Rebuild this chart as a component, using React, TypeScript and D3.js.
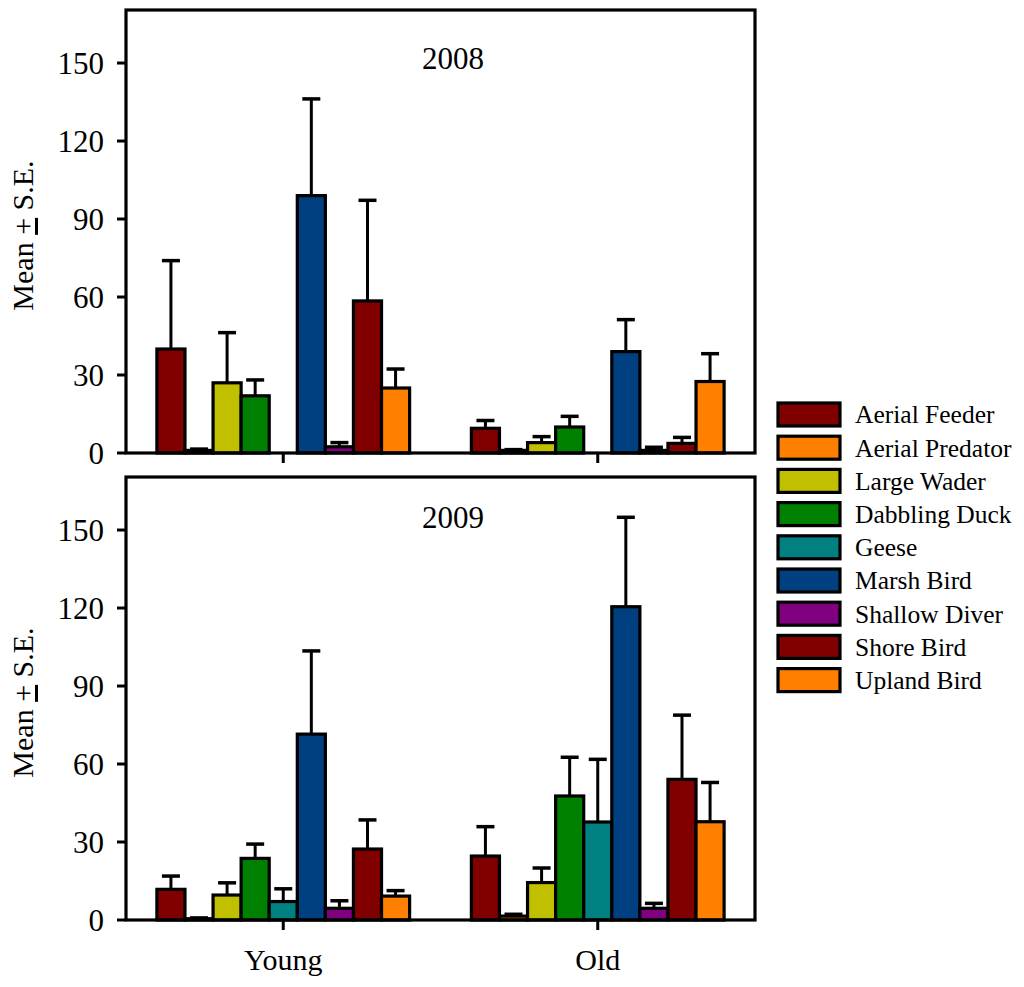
import * as d3 from 'd3';

const categories = [
  'Aerial Feeder',
  'Aerial Predator',
  'Large Wader',
  'Dabbling Duck',
  'Geese',
  'Marsh Bird',
  'Shallow Diver',
  'Shore Bird',
  'Upland Bird',
];
const colors = ['#800000', '#ff8000', '#c0c000', '#008000', '#008080', '#004080', '#800080', '#800000', '#ff8000'];
const ageGroups = ['Young', 'Old'];
const yTicks = [0, 30, 60, 90, 120, 150];

// 2008
const mean2008Young = [40, 1, 27, 22, 0, 99, 2.4, 58.5, 25];
const se2008Young = [34, 0.5, 19.3, 6.1, 0, 37.2, 1.6, 38.7, 7.3];
const mean2008Old = [9.5, 1, 4, 10, 0, 39, 1, 3.7, 27.5];
const se2008Old = [3, 0.3, 2.3, 4.1, 0, 12.3, 1.2, 2.3, 10.7];

// 2009
const mean2009Young = [11.8, 0.5, 9.6, 23.7, 7.1, 71.5, 4.5, 27.3, 9.2];
const se2009Young = [5.1, 0.3, 4.7, 5.5, 4.9, 32, 2.9, 11.2, 2.1];
const mean2009Old = [24.6, 1.5, 14.4, 47.7, 37.7, 120.5, 4.5, 54.1, 37.8];
const se2009Old = [11.3, 0.7, 5.6, 14.9, 24.1, 34.4, 1.9, 24.7, 15.1];

const FONT = "'Liberation Serif', 'Times New Roman', serif";

const left = 126;
const right = 755;
const panelH = 443;

const x0 = d3.scaleBand<string>().domain(ageGroups).range([left, right]).padding(0);
const x1 = d3.scaleBand<string>().domain(categories).range([0, x0.bandwidth()]).paddingInner(0).paddingOuter(1.1);
const y = d3.scaleLinear().domain([0, 170.4]).range([panelH, 0]);

const Panel = ({ top, year, yearY, means, ses }: {
  top: number; year: string; yearY: number; means: number[][]; ses: number[][];
}) => (
  <g transform={`translate(0,${top})`}>
    {ageGroups.map((g, gi) => (
      <g key={g} transform={`translate(${x0(g)},0)`}>
        {categories.map((c, ci) => {
          const m = means[gi][ci];
          const s = ses[gi][ci];
          const bx = x1(c)!;
          const cx = bx + x1.bandwidth() / 2;
          return (
            <g key={c}>
              {s > 0 && (
                <g stroke="#000" strokeWidth={3}>
                  <line x1={cx} x2={cx} y1={y(m)} y2={y(m + s)} />
                  <line x1={cx - 9} x2={cx + 9} y1={y(m + s)} y2={y(m + s)} strokeWidth={3.5} />
                </g>
              )}
              <rect x={bx} y={y(m)} width={x1.bandwidth()} height={y(0) - y(m)}
                fill={colors[ci]} stroke="#000" strokeWidth={3.2} />
            </g>
          );
        })}
      </g>
    ))}
    {/* frame */}
    <rect x={left} y={0} width={right - left} height={panelH} fill="none" stroke="#000" strokeWidth={3.2} />
    {yTicks.map(t => (
      <g key={t}>
        <line x1={left - 9} x2={left} y1={y(t)} y2={y(t)} stroke="#000" strokeWidth={3} />
        <text x={104} y={y(t)} dy="0.35em" textAnchor="end" fontSize={31} fontFamily={FONT}>{t}</text>
      </g>
    ))}
    {ageGroups.map(g => (
      <line key={g} x1={x0(g)! + x0.bandwidth() / 2} x2={x0(g)! + x0.bandwidth() / 2}
        y1={panelH} y2={panelH + 10} stroke="#000" strokeWidth={3} />
    ))}
    <text x={453} y={yearY} textAnchor="middle" fontSize={31} fontFamily={FONT}>{year}</text>
    <text transform={`translate(33,${panelH / 2 + 4}) rotate(-90)`} textAnchor="middle" fontSize={30} fontFamily={FONT}>
      Mean <tspan textDecoration="underline">+</tspan> S.E.
    </text>
  </g>
);

export default function App() {
  return (
    <svg width={1024} height={987} style={{ position: 'absolute', left: 0, top: 0, background: '#fff' }}>
      <rect width={1024} height={987} fill="#fff" />
      <Panel top={10} year="2008" yearY={59} means={[mean2008Young, mean2008Old]} ses={[se2008Young, se2008Old]} />
      <Panel top={477} year="2009" yearY={51} means={[mean2009Young, mean2009Old]} ses={[se2009Young, se2009Old]} />
      {ageGroups.map(g => (
        <text key={g} x={x0(g)! + x0.bandwidth() / 2} y={970} textAnchor="middle" fontSize={30} fontFamily={FONT}>{g}</text>
      ))}
      <g>
        {categories.map((c, i) => (
          <g key={c} transform={`translate(778,${403 + i * 33.2})`}>
            <rect width={62} height={23} fill={colors[i]} stroke="#000" strokeWidth={3.2} />
            <text x={77} y={11.5} dy="0.35em" fontSize={25.5} fontFamily={FONT}>{c}</text>
          </g>
        ))}
      </g>
    </svg>
  );
}
